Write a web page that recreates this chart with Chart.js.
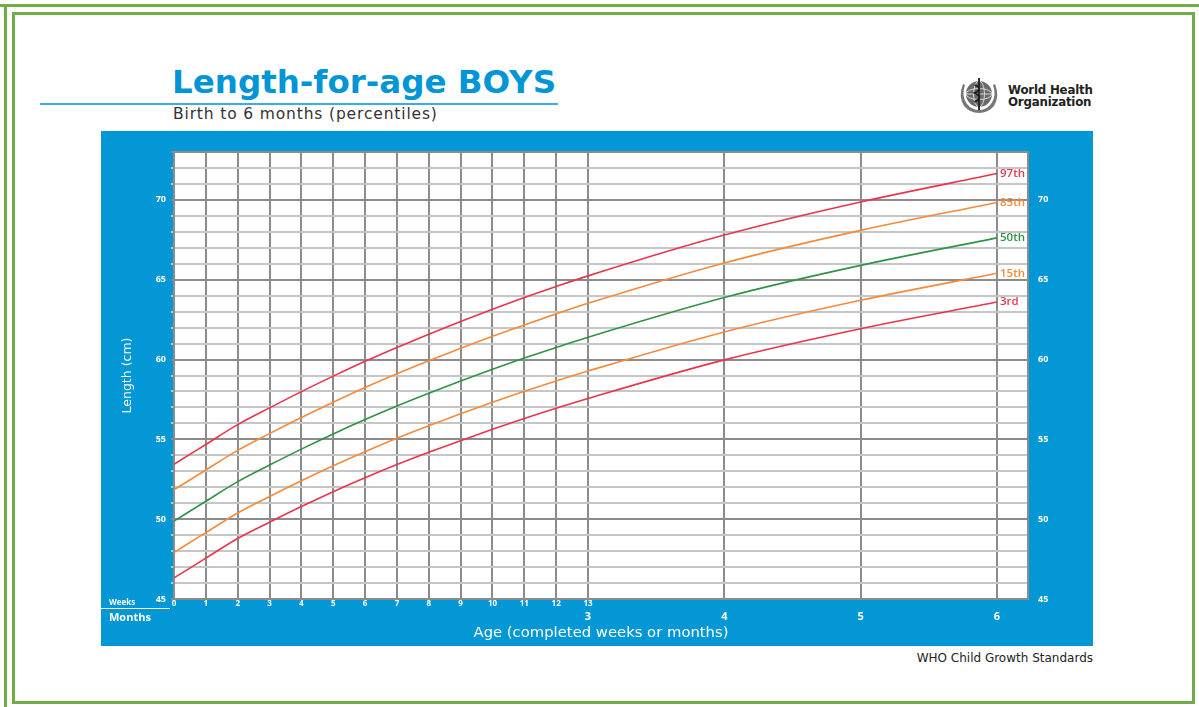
<!DOCTYPE html>
<html>
<head>
<meta charset="utf-8">
<script src="https://cdn.jsdelivr.net/npm/chart.js@4.4.1/dist/chart.umd.min.js"></script>
<style>
  html,body{margin:0;padding:0;}
  body{width:1199px;height:707px;position:relative;background:#fff;overflow:hidden;font-family:'DejaVu Sans',sans-serif;}
  .g{position:absolute;background:#70AD47;}
  #title{position:absolute;left:172px;top:66px;font-weight:700;font-size:32.5px;line-height:32px;color:#0096D6;white-space:nowrap;}
  #rule{position:absolute;left:40px;top:103px;width:518px;height:2px;background:#3AAEE2;}
  #sub{position:absolute;left:173px;top:106px;font-size:15.5px;line-height:16px;letter-spacing:0.85px;color:#333;white-space:nowrap;}
  #who{position:absolute;left:1008px;top:84px;font-weight:700;font-size:11.8px;line-height:12px;color:#222;white-space:nowrap;letter-spacing:-0.2px;}
  #emblem{position:absolute;left:957px;top:75px;}
  #panel{position:absolute;left:101px;top:131px;width:992px;height:515px;}
  #foot{position:absolute;right:106px;top:652px;font-size:12px;line-height:12px;color:#222;white-space:nowrap;}
  .ax{position:absolute;color:#fff;font-weight:700;white-space:nowrap;z-index:3;font-family:'Open Sans',sans-serif;}
  #weeks{left:109px;top:598px;font-size:8px;line-height:8px;}
  #wline{position:absolute;left:101px;top:608px;width:69px;height:1px;background:#fff;z-index:3;}
  #months{left:109px;top:611px;font-size:11px;line-height:11px;}
</style>
</head>
<body>
<div class="g" style="left:0;top:4px;width:1199px;height:3px;"></div>
<div class="g" style="left:4px;top:4px;width:3px;height:703px;"></div>
<div class="g" style="left:12px;top:12px;width:1183px;height:3px;"></div>
<div class="g" style="left:12px;top:12px;width:3px;height:692px;"></div>
<div class="g" style="left:1192px;top:12px;width:3px;height:692px;"></div>
<div class="g" style="left:12px;top:701px;width:1183px;height:3px;"></div>

<div id="title">Length-for-age BOYS</div>
<div id="rule"></div>
<div id="sub">Birth to 6 months (percentiles)</div>

<svg id="emblem" width="44" height="40" viewBox="0 0 44 40">
  <g fill="#777">
    <path d="M6 9 Q1 21 7 31 Q13 38 22 38 Q31 38 37 31 Q43 21 38 9 L36 10 Q40 21 34 29 Q29 35 22 35 Q15 35 10 29 Q4 21 8 10 Z"/>
  </g>
  <circle cx="22" cy="19" r="13" fill="#6a6a6a"/>
  <g stroke="#e0e0e0" stroke-width="0.9" fill="none">
    <ellipse cx="22" cy="19" rx="13" ry="5.5"/>
    <ellipse cx="22" cy="19" rx="5.5" ry="13"/>
    <line x1="9" y1="19" x2="35" y2="19"/>
    <line x1="22" y1="6" x2="22" y2="32"/>
  </g>
  <path d="M22 3 L22 35 M17.5 10 Q27 13 17.5 18 Q27 22 17.5 27" stroke="#1a1a1a" stroke-width="1.8" fill="none"/>
</svg>
<div id="who">World Health<br>Organization</div>

<div id="panel"><canvas id="c" width="992" height="515"></canvas></div>
<div class="ax" id="weeks">Weeks</div>
<div id="wline"></div>
<div class="ax" id="months">Months</div>
<div id="foot">WHO Child Growth Standards</div>

<script>
// ---- data (length in cm) ----
const weekAges  = [0,1,2,3,4,5,6,7,8,9,10,11,12,13];   // weeks (13 wk = 3 months)
const monthAges = [4,5,6];                              // months after 3
const monthTicks = [3,4,5,6];
const yTicksLabelled = [45,50,55,60,65,70];

const p3  = [46.32,47.56,48.79,49.81,50.79,51.72,52.59,53.42,54.19,54.92,55.63,56.31,56.95,57.56, 59.98,61.93,63.60];
const p15 = [47.92,49.16,50.39,51.42,52.41,53.35,54.23,55.07,55.85,56.60,57.32,58.01,58.66,59.28, 61.73,63.71,65.40];
const p50 = [49.88,51.12,52.35,53.39,54.39,55.34,56.24,57.09,57.89,58.65,59.39,60.09,60.76,61.40, 63.89,65.90,67.62];
const p85 = [51.84,53.08,54.31,55.36,56.37,57.33,58.25,59.11,59.93,60.70,61.46,62.17,62.86,63.52, 66.05,68.09,69.84];
const p97 = [53.44,54.68,55.92,56.97,57.99,58.96,59.89,60.76,61.59,62.38,63.15,63.88,64.57,65.24, 67.80,69.87,71.65];

const percentileLabels = ['97th','85th','50th','15th','3rd'];

// ---- axis mapping: weekly section, then monthly section ----
const MONTH_SPAN = 4.281;   // axis units (week widths) per month beyond 3 months
const X_MAX = 26.816;
const pos = m => 13 + (m - 3) * MONTH_SPAN;
const xs = weekAges.concat(monthAges.map(pos));
const series = vals => vals.map((v, i) => ({x: xs[i], y: v}));

const RED = '#e8354d', ORANGE = '#f58a3c', GREEN = '#2f9347';
const BLUE = '#0497d6';

const bgPlugin = {
  id: 'bg',
  beforeDraw(chart) {
    const {ctx, chartArea: a} = chart;
    ctx.save();
    ctx.fillStyle = BLUE;
    ctx.fillRect(0, 0, chart.width, chart.height);
    ctx.fillStyle = '#fff';
    ctx.fillRect(a.left, a.top, a.right - a.left, a.bottom - a.top);
    ctx.restore();
  }
};
const labelPlugin = {
  id: 'pctl',
  afterDatasetsDraw(chart) {
    const ctx = chart.ctx;
    chart.data.datasets.forEach((ds, i) => {
      const meta = chart.getDatasetMeta(i);
      const pt = meta.data[meta.data.length - 1];
      ctx.save();
      ctx.fillStyle = ds.borderColor;
      ctx.font = '600 11.5px "Open Sans"';
      ctx.textBaseline = 'middle';
      ctx.textAlign = 'left';
      ctx.fillText(ds.label, pt.x + 3, pt.y);
      ctx.restore();
    });
  }
};

const lineDs = (label, vals, color) => ({
  label, data: series(vals), borderColor: color, backgroundColor: color,
  borderWidth: 1.6, pointRadius: 0, tension: 0.4, cubicInterpolationMode: 'monotone', fill: false
});

const yTickCb = v => yTicksLabelled.includes(v) ? String(v) : '';
const gridGray = '#8c8c8c';

new Chart(document.getElementById('c'), {
  type: 'line',
  data: {
    datasets: [
      lineDs(percentileLabels[0], p97, RED),
      lineDs(percentileLabels[1], p85, ORANGE),
      lineDs(percentileLabels[2], p50, GREEN),
      lineDs(percentileLabels[3], p15, ORANGE),
      lineDs(percentileLabels[4], p3, RED)
    ]
  },
  options: {
    responsive: false,
    animation: false,
    layout: {padding: {top: 21, left: 0, right: 0, bottom: 0}},
    plugins: {legend: {display: false}, tooltip: {enabled: false}},
    scales: {
      x: {
        type: 'linear', min: 0, max: X_MAX, position: 'bottom',
        afterBuildTicks: s => { s.ticks = xs.map(v => ({value: v})); },
        ticks: {
          autoSkip: false, maxRotation: 0, padding: 0, color: '#fff',
          font: {family: 'Open Sans', size: 8, weight: 'bold'},
          callback: (v, i) => i < weekAges.length ? String(weekAges[i]) : ''
        },
        grid: {color: gridGray, lineWidth: 2, drawTicks: false},
        border: {color: gridGray, width: 2},
        afterFit: s => { s.height = 11; }
      },
      xm: {
        type: 'linear', min: 0, max: X_MAX, position: 'bottom',
        afterBuildTicks: s => { s.ticks = monthTicks.map(m => ({value: pos(m)})); },
        ticks: {
          autoSkip: false, maxRotation: 0, padding: 0, color: '#fff',
          font: {family: 'Open Sans', size: 11, weight: 'bold'},
          callback: (v, i) => String(monthTicks[i])
        },
        grid: {display: false, drawTicks: false},
        border: {display: false},
        title: {display: true, text: 'Age (completed weeks or months)', color: '#fff',
                font: {family: 'DejaVu Sans', size: 14.8}, padding: {top: 0, bottom: 4}},
        afterFit: s => { s.height = 36; }
      },
      y: {
        type: 'linear', min: 45, max: 73, position: 'left',
        ticks: {stepSize: 1, autoSkip: false, padding: 5, color: '#fff',
                font: {family: 'Open Sans', size: 9, weight: 'bold'}, callback: yTickCb},
        grid: {color: c => (c.tick.value % 5 === 0 || c.tick.value === 73) ? gridGray : '#c6c6c6',
               lineWidth: 2, tickLength: 3},
        border: {color: gridGray, width: 2},
        title: {display: true, text: 'Length (cm)', color: '#fff',
                font: {family: 'DejaVu Sans', size: 12.5}, padding: {top: 19, bottom: 0}},
        afterFit: s => { s.width = 73; }
      },
      y2: {
        type: 'linear', min: 45, max: 73, position: 'right',
        ticks: {stepSize: 1, autoSkip: false, padding: 10, color: '#fff',
                font: {family: 'Open Sans', size: 9, weight: 'bold'}, callback: yTickCb},
        grid: {display: false, drawTicks: false},
        border: {color: gridGray, width: 2},
        afterFit: s => { s.width = 65; }
      }
    }
  },
  plugins: [bgPlugin, labelPlugin]
});
</script>
</body>
</html>
